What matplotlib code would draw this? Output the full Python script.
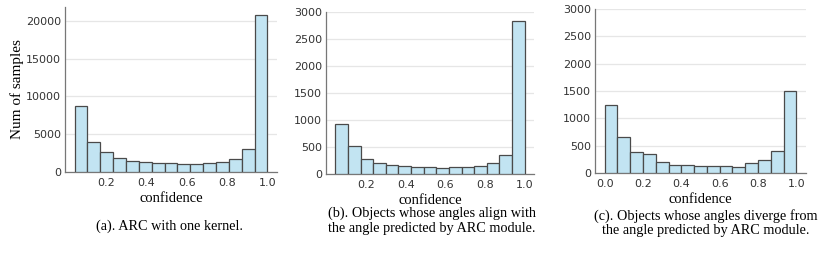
import numpy as np
import matplotlib.pyplot as plt

# bin counts (15 bins each)
countsA = [8800, 4000, 2600, 1900, 1500, 1300, 1250, 1150, 1050, 1100, 1150, 1350, 1750, 3000, 20800]
countsB = [930, 510, 280, 210, 175, 145, 130, 125, 105, 125, 130, 145, 195, 345, 2830]
countsC = [1250, 650, 390, 340, 210, 150, 145, 125, 135, 135, 115, 180, 235, 410, 1500]

binStartAB = 0.045
binStartC = 0.0
binEnd = 1.0

yTicksA = [0, 5000, 10000, 15000, 20000]
yTicksBC = [0, 500, 1000, 1500, 2000, 2500, 3000]
xTicksAB = [0.2, 0.4, 0.6, 0.8, 1.0]
xTicksC = [0.0, 0.2, 0.4, 0.6, 0.8, 1.0]

captions = [
    "(a). ARC with one kernel.",
    "(b). Objects whose angles align with\nthe angle predicted by ARC module.",
    "(c). Objects whose angles diverge from\nthe angle predicted by ARC module.",
]

W, H = 830, 256
serif = "Liberation Serif"
barColor = "#c2e4f2"
edgeColor = "#4a4a4a"

fig = plt.figure(figsize=(W / 100, H / 100), dpi=100)

# axes boxes in pixels: left, right, top, bottom
boxes = [(65, 277, 7, 172), (326, 534, 12, 174), (595, 806, 9, 173)]
allCounts = [countsA, countsB, countsC]
starts = [binStartAB, binStartAB, binStartC]
xticksList = [xTicksAB, xTicksAB, xTicksC]

for i, (l, r, t, b) in enumerate(boxes):
    ax = fig.add_axes([l / W, 1 - b / H, (r - l) / W, (b - t) / H])
    counts = allCounts[i]
    edges = np.linspace(starts[i], binEnd, len(counts) + 1)
    ax.bar(edges[:-1], counts, width=np.diff(edges), align="edge",
           color=barColor, edgecolor=edgeColor, linewidth=0.9, zorder=3)
    ax.set_xticks(xticksList[i])
    ax.set_xticklabels([f"{v:.1f}" for v in xticksList[i]])
    if i == 0:
        ax.set_yticks(yTicksA)
        ax.set_ylim(0, max(counts) * 1.05)
        ax.set_ylabel("Num of samples", family=serif, fontsize=11, labelpad=1)
    else:
        ax.set_yticks(yTicksBC)
        ax.set_ylim(0, 3000)
    ax.margins(x=0.05)
    ax.grid(axis="y", color="#e6e6e6", linewidth=0.9, zorder=0)
    ax.set_axisbelow(True)
    for side in ["top", "right"]:
        ax.spines[side].set_visible(False)
    for side in ["left", "bottom"]:
        ax.spines[side].set_color("#777777")
        ax.spines[side].set_linewidth(0.9)
    ax.tick_params(length=0, labelsize=8, labelcolor="#333333")
    ax.tick_params(axis="x", pad=4)
    ax.tick_params(axis="y", pad=3)
    ax.set_xlabel("confidence", family=serif, fontsize=10.5, labelpad=3)

# captions under each panel
fig.text(169 / W, 1 - 226 / H, captions[0], family=serif, fontsize=10.3,
         ha="center", va="center")
fig.text(432 / W, 1 - 221 / H, captions[1], family=serif, fontsize=10.3,
         ha="center", va="center", linespacing=1.15)
fig.text(706 / W, 1 - 223 / H, captions[2], family=serif, fontsize=10.3,
         ha="center", va="center", linespacing=1.15)

fig.savefig("out.png", dpi=100)
